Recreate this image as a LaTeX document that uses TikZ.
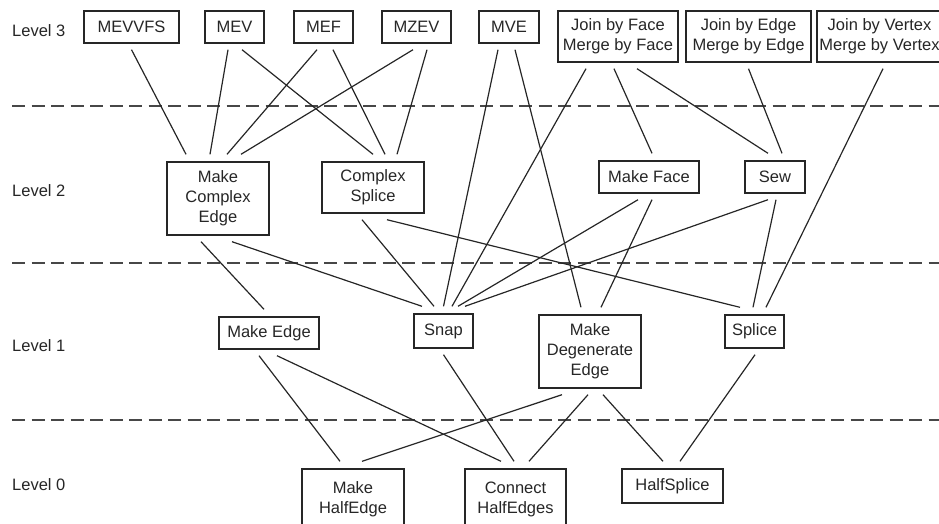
\documentclass[tikz,border=0pt]{standalone}
\usepackage{fontspec}
\setmainfont{Liberation Sans}
\usetikzlibrary{positioning}
\definecolor{ink}{gray}{0.15}

\begin{document}
\begin{tikzpicture}[x=1pt,y=-1pt,
        op/.style={draw=ink, line width=1.4pt, inner sep=0pt, align=center, text=ink,
            minimum height=32pt, font=\fontsize{16.5}{20}\selectfont},
        lvl/.style={anchor=west, inner sep=0pt, text=ink, font=\fontsize{16.5}{20}\selectfont},
        link/.style={draw=ink, line width=1.2pt},
        levelsep/.style={draw=ink!85, line width=1.2pt, dash pattern=on 13pt off 6.5pt}]
        \newcommand{\pagew}{939}
        \newcommand{\pageh}{523}
        \newcommand{\conn}[4]{\draw[link] ([xshift=#2pt,yshift=-6pt]#1.south) -- ([xshift=#4pt,yshift=7pt]#3.north);}
        \useasboundingbox (0,0) rectangle (\pagew,\pageh);
        \clip (0,0) rectangle (\pagew,\pageh);

        % level labels and separators
        \node[lvl] (lvl3) at (12,31) {Level 3};
        \node[lvl] (lvl2) at (12,191) {Level 2};
        \node[lvl] (lvl1) at (12,346) {Level 1};
        \node[lvl] (lvl0) at (12,485) {Level 0};
        \foreach \y in {106,263,420}
            \draw[levelsep] (12,\y) -- (\pagew,\y);

        % level 3
        \node[op, minimum width=95pt] (mevvfs) at (131.5,27) {MEVVFS};
        \node[op, minimum width=59pt] (mev) at (234.5,27) {MEV};
        \node[op, minimum width=59pt] (mef) at (323.5,27) {MEF};
        \node[op, minimum width=69pt] (mzev) at (416.5,27) {MZEV};
        \node[op, minimum width=60pt] (mve) at (509,27) {MVE};
        \node[op, minimum width=120pt, minimum height=51pt] (jbf) at (618,36.5) {Join by Face\\Merge by Face};
        \node[op, minimum width=125pt, minimum height=51pt] (jbe) at (748.5,36.5) {Join by Edge\\Merge by Edge};
        \node[op, minimum width=125pt, minimum height=51pt] (jbv) at (879.5,36.5) {Join by Vertex\\Merge by Vertex};

        % level 2
        \node[op, minimum width=102pt, minimum height=73pt] (mce) at (218,198.5) {Make\\Complex\\Edge};
        \node[op, minimum width=102pt, minimum height=51pt] (cs) at (373,187.5) {Complex\\Splice};
        \node[op, minimum width=100pt] (mf) at (649,177) {Make Face};
        \node[op, minimum width=60pt] (sew) at (775,177) {Sew};

        % level 1
        \node[op, minimum width=100pt] (me) at (269,333) {Make Edge};
        \node[op, minimum width=59pt, minimum height=34pt] (snap) at (443.5,331) {Snap};
        \node[op, minimum width=102pt, minimum height=73pt] (mde) at (590,351.5) {Make\\Degenerate\\Edge};
        \node[op, minimum width=59pt, minimum height=33pt] (splice) at (754.5,331.5) {Splice};

        % level 0
        \node[op, minimum width=102pt, minimum height=60pt] (mhe) at (353,499) {Make\\HalfEdge};
        \node[op, minimum width=101pt, minimum height=60pt] (che) at (515.5,499) {Connect\\HalfEdges};
        \node[op, minimum width=101pt, minimum height=34pt] (hs) at (672.5,486) {HalfSplice};

        % level 3 -> level 2
        \conn{mevvfs}{0}{mce}{-32}
        \conn{mev}{-6.5}{mce}{-8}
        \conn{mev}{7.5}{cs}{0}
        \conn{mef}{-6.5}{mce}{9}
        \conn{mef}{9.5}{cs}{12}
        \conn{mzev}{-3.5}{mce}{23}
        \conn{mzev}{10.5}{cs}{24}
        \conn{mve}{-11}{snap}{0}
        \conn{mve}{6}{mde}{-9}
        \conn{jbf}{-32}{snap}{8.5}
        \conn{jbf}{-4}{mf}{3}
        \conn{jbf}{19}{sew}{-7}
        \conn{jbe}{0}{sew}{7}
        \conn{jbv}{3.5}{splice}{11.5}

        % level 2 -> level 1
        \conn{mce}{-17}{me}{-5}
        \conn{mce}{14}{snap}{-21.5}
        \conn{cs}{-11}{snap}{-9.5}
        \conn{cs}{14}{splice}{-14.5}
        \conn{mf}{-11}{snap}{14.5}
        \conn{mf}{3}{mde}{11}
        \conn{sew}{-7}{snap}{21.5}
        \conn{sew}{1}{splice}{-1.5}

        % level 1 -> level 0
        \conn{me}{-10}{mhe}{-13}
        \conn{me}{8}{che}{-14.5}
        \conn{snap}{0}{che}{-1.5}
        \conn{mde}{-28}{mhe}{9}
        \conn{mde}{-2}{che}{13.5}
        \conn{mde}{13}{hs}{-9.5}
        \conn{splice}{0.5}{hs}{7.5}
\end{tikzpicture}
\end{document}
